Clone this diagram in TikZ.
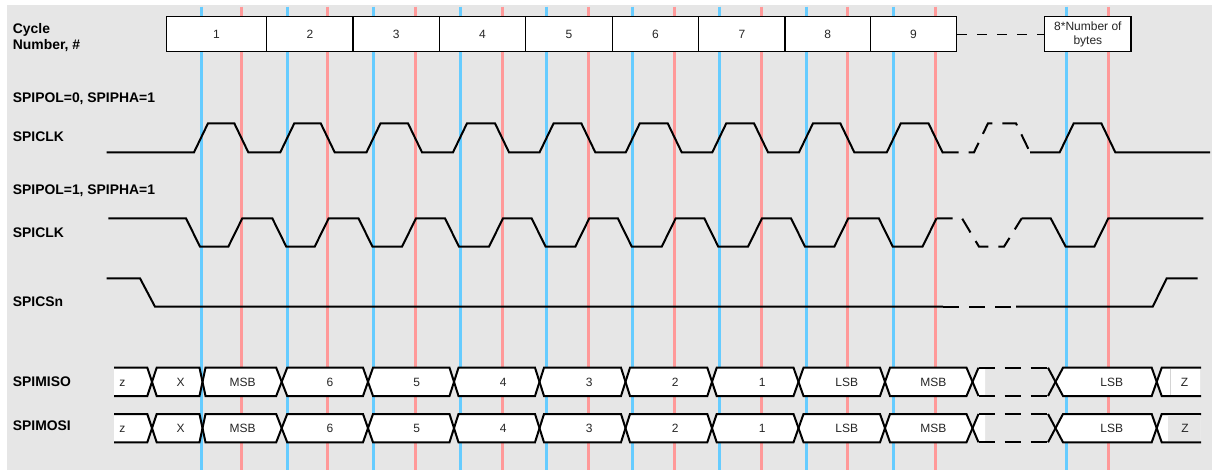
\documentclass[tikz,border=0pt]{standalone}
\usepackage{fontspec}
\setmainfont{Liberation Sans}
\definecolor{bgc}{HTML}{E6E6E6}
\definecolor{bluel}{HTML}{66CCFF}
\definecolor{redl}{HTML}{FF9999}
\definecolor{txt}{HTML}{262626}
\definecolor{zgray}{HTML}{D4D4D4}
\newcommand\busrow[3]{% #1 top, #2 bottom, #3 row name
  \pgfmathsetmacro\rmid{(#1+#2)/2}
  \pgfmathsetmacro\rbas{\rmid+4.3}
  % fills
  \fill[white] (114,#1) -- (147.3,#1) -- (152,\rmid) -- (147.3,#2) -- (114,#2) -- cycle;
  \foreach \a/\wa/\b/\wb in {152/4.7/202.5/3, 202.5/3/281.7/5.5, 281.7/5.5/368/5, 368/5/454/4.5,
      454/4.5/539.5/4.5, 539.5/4.5/625.5/4.5, 625.5/4.5/712/4.7, 712/4.7/798.5/5,
      798.5/5/885/5, 885/5/972.5/6, 1055.5/7.5/1156.7/5}
    {\fill[white] (\a+\wa,#1) -- (\b-\wb,#1) -- (\b,\rmid) -- (\b-\wb,#2) -- (\a+\wa,#2) -- (\a,\rmid) -- cycle;}
  \fill[white] (972.5,\rmid) -- (978.5,#1) -- (985,#1) -- (985,#2) -- (978.5,#2) -- cycle;
  \fill[white] (1156.7,\rmid) -- (1161.7,#1) -- (1200,#1) -- (1200,#2) -- (1161.7,#2) -- cycle;
  % outlines
  \draw[bus] (114,#1) -- (147.3,#1) -- (152,\rmid) -- (147.3,#2) -- (114,#2);
  \foreach \a/\wa/\b/\wb in {152/4.7/202.5/3, 202.5/3/281.7/5.5, 281.7/5.5/368/5, 368/5/454/4.5,
      454/4.5/539.5/4.5, 539.5/4.5/625.5/4.5, 625.5/4.5/712/4.7, 712/4.7/798.5/5,
      798.5/5/885/5, 885/5/972.5/6, 1055.5/7.5/1156.7/5}
    {\draw[bus] (\a+\wa,#1) -- (\b-\wb,#1) -- (\b,\rmid) -- (\b-\wb,#2) -- (\a+\wa,#2) -- (\a,\rmid) -- cycle;}
  \draw[bus] (978.5,#1) -- (972.5,\rmid) -- (978.5,#2);
  \draw[bus,dsh] (978.5,#1) -- (1048,#1);
  \draw[bus,dsh] (978.5,#2) -- (1048,#2);
  \draw[bus] (1048,#1) -- (1055.5,\rmid) -- (1048,#2);
  \draw[bus] (1201,#1) -- (1161.7,#1) -- (1156.7,\rmid) -- (1161.7,#2) -- (1201,#2);
  % texts
  \node[btxt] (#3z) at (122.3,\rbas) {z};
  \foreach \lx/\t [count=\k] in {180.5/X, 242.7/MSB, 330/6, 416.7/5, 503.3/4, 589.3/3,
      675.3/2, 762.3/1, 846.7/LSB, 933.3/MSB, 1111.7/LSB}
    {\node[btxt] (#3c\k) at (\lx,\rbas) {\t};}
}
\begin{document}
\begin{tikzpicture}[x=1pt,y=-1pt,
  lbl/.style={anchor=base west,inner sep=0pt,font=\fontsize{13.9}{16}\selectfont\bfseries},
  cyc/.style={draw=black,line width=1.3pt,fill=white,minimum height=35pt,inner sep=0pt,
              font=\fontsize{12}{14.3}\selectfont,text=txt},
  wave/.style={line width=2pt},
  bus/.style={line width=2pt},
  btxt/.style={anchor=base,inner sep=0pt,font=\fontsize{12}{14}\selectfont,text=txt},
  dsh/.style={dash pattern=on 16pt off 10pt},
  bl/.style={draw=bluel,line width=3pt},
  rl/.style={draw=redl,line width=3pt}]
\useasboundingbox (0,0) rectangle (1212,470);
\fill[bgc] (7,5) rectangle (1212,470);

% timing reference lines
\foreach \x in {201,287.3,373.5,460,546.6,632.8,719.3,806,893.8,1066.7}
  \draw[bl] (\x,6.7) -- (\x,470);
\foreach \x in {241.3,327.7,415,502,588.3,674.7,761,847.3,935.5,1108.3}
  \draw[rl] (\x,6.7) -- (\x,470);

% cycle number boxes
\node[cyc,minimum width=100.4pt] (cy1) at (216.5,34.2) {1};
\node[cyc,minimum width=86.3pt] (cy2) at (309.85,34.2) {2};
\node[cyc,minimum width=86.3pt] (cy3) at (396.15,34.2) {3};
\node[cyc,minimum width=86.4pt] (cy4) at (482.5,34.2) {4};
\node[cyc,minimum width=86.6pt] (cy5) at (569,34.2) {5};
\node[cyc,minimum width=86.4pt] (cy6) at (655.5,34.2) {6};
\node[cyc,minimum width=86.3pt] (cy7) at (741.85,34.2) {7};
\node[cyc,minimum width=85.3pt] (cy8) at (827.65,34.2) {8};
\node[cyc,minimum width=86.4pt] (cy9) at (913.5,34.2) {9};
\node[cyc,minimum width=86.3pt,align=center] (cyn) at (1087.85,34.2) {8*Number of\\bytes};
\draw[line width=1.3pt,dash pattern=on 10pt off 10pt] (cy9.east) -- (cyn.west);

% SPICLK, SPIPOL=0
\draw[wave] (106.7,152.3)
  foreach \b/\r in {201/241.3,287.3/327.7,373.5/415,460/502,546.6/588.3,632.8/674.7,719.3/761,806/847.3,893.8/935.5}
  { -- (\b-7,152.3) -- (\b+7,123.3) -- (\r-7,123.3) -- (\r+7,152.3) } -- (943,152.3);
\draw[wave,dsh] (942.5,152.3) -- (974,152.3) -- (988,123.3) -- (1016,123.3) -- (1030,152.3);
\draw[wave] (1030,152.3) -- (1059.7,152.3) -- (1073.7,123.3) -- (1101.3,123.3) -- (1115.3,152.3) -- (1210,152.3);

% SPICLK, SPIPOL=1
\draw[wave] (108.3,218.3)
  foreach \b/\r in {201/241.3,287.3/327.7,373.5/415,460/502,546.6/588.3,632.8/674.7,719.3/761,806/847.3,893.8/935.5}
  { -- (\b-15,218.3) -- (\b-1,246.7) -- (\r-13,246.7) -- (\r+1,218.3) };
\draw[wave,dsh] (936.5,218.3) -- (962,218.3) -- (979,246.7) -- (1004,246.7) -- (1021.7,218.3);
\draw[wave] (1021.7,218.3) -- (1050.7,218.3) -- (1065.7,246.7) -- (1094.3,246.7) -- (1108.3,218.3) -- (1203.3,218.3);

% SPICSn
\draw[wave] (106.7,278.3) -- (140,278.3) -- (155,306.7) -- (943,306.7);
\draw[wave,dsh] (943,306.7) -- (1016,306.7);
\draw[wave] (1016,306.7) -- (1152.7,306.7) -- (1166.7,278.3) -- (1197.7,278.3);

% data buses
\busrow{367.7}{396}{miso}
\busrow{414}{442.3}{mosi}
\draw[zgray,line width=1pt] (1170,368.7) -- (1170,395);
\fill[bgc] (1168.3,415) rectangle (1200,441.3);
\node[btxt] (misoZ) at (1184.5,386.1) {Z};
\node[btxt] (mosiZ) at (1185,432.5) {Z};

% labels
\node[lbl] (l1) at (12.7,33.3) {Cycle};
\node[lbl] (l2) at (12.7,50) {Number, \#};
\node[lbl] (l3) at (12.7,102.3) {SPIPOL=0, SPIPHA=1};
\node[lbl] (l4) at (12.7,141.7) {SPICLK};
\node[lbl] (l5) at (12.7,194.3) {SPIPOL=1, SPIPHA=1};
\node[lbl] (l6) at (12.7,237.7) {SPICLK};
\node[lbl] (l7) at (12.7,306.7) {SPICSn};
\node[lbl] (l8) at (12.7,386.7) {SPIMISO};
\node[lbl] (l9) at (12.7,430) {SPIMOSI};
\end{tikzpicture}
\end{document}
